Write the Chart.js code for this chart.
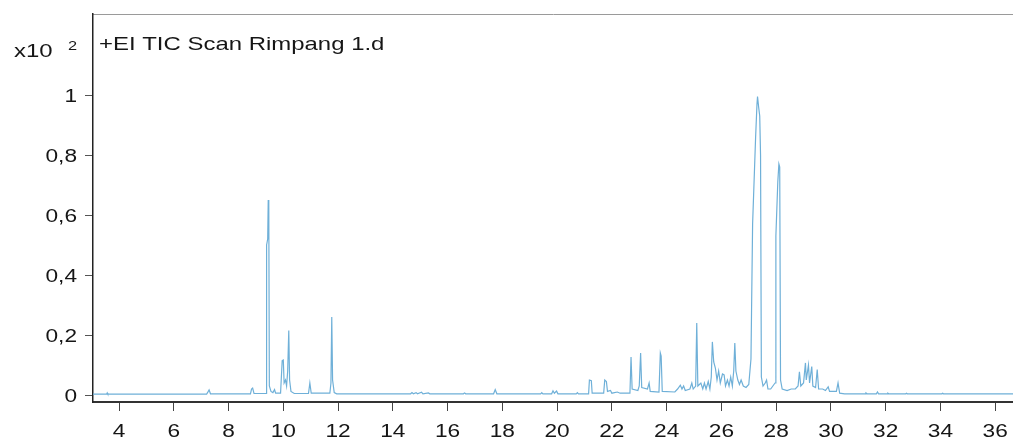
<!DOCTYPE html>
<html>
<head>
<meta charset="utf-8">
<script src="https://cdn.jsdelivr.net/npm/chart.js@4/dist/chart.umd.min.js"></script>
<style>
  html, body { margin: 0; padding: 0; background: #ffffff; }
  #wrap { width: 1013px; height: 439px; }
</style>
</head>
<body>
<div id="wrap"><canvas id="tic" width="1013" height="439"></canvas></div>
<script>
// Total ion chromatogram: retention time (min) vs. abundance (x10^2)
const retentionTime = [
  3.05, 3.55, 3.57, 3.59, 7.20, 7.26, 7.29, 7.34, 8.80, 8.84, 8.88, 8.93,
  9.37, 9.39, 9.43, 9.45, 9.47, 9.49, 9.55, 9.62, 9.68, 9.72, 9.90, 9.96,
  10.00, 10.03, 10.08, 10.12, 10.16, 10.20, 10.23, 10.28, 10.40, 10.92, 10.97, 11.02,
  11.70, 11.74, 11.77, 11.80, 11.86, 11.95, 14.65, 14.70, 14.75, 14.85, 14.90, 15.05,
  15.10, 15.30, 15.35, 16.58, 16.62, 16.66, 17.68, 17.74, 17.80, 19.40, 19.44, 19.48,
  19.80, 19.85, 19.90, 19.98, 20.03, 20.70, 20.74, 20.78, 21.15, 21.18, 21.25, 21.28,
  21.70, 21.74, 21.80, 21.84, 21.95, 22.00, 22.20, 22.30, 22.66, 22.70, 22.74, 22.95,
  23.00, 23.05, 23.09, 23.30, 23.36, 23.40, 23.72, 23.77, 23.80, 23.84, 24.30, 24.40,
  24.50, 24.56, 24.62, 24.68, 24.85, 24.92, 24.97, 25.06, 25.10, 25.14, 25.25, 25.32,
  25.38, 25.44, 25.52, 25.58, 25.63, 25.67, 25.72, 25.78, 25.84, 25.90, 25.96, 26.04,
  26.10, 26.15, 26.22, 26.28, 26.34, 26.40, 26.45, 26.49, 26.53, 26.60, 26.66, 26.72,
  26.80, 26.90, 27.00, 27.08, 27.10, 27.14, 27.25, 27.30, 27.32, 27.36, 27.40, 27.43,
  27.46, 27.52, 27.60, 27.65, 27.70, 27.80, 27.96, 27.99, 28.06, 28.10, 28.13, 28.16,
  28.22, 28.40, 28.55, 28.70, 28.80, 28.85, 28.90, 29.00, 29.07, 29.10, 29.18, 29.22,
  29.30, 29.34, 29.44, 29.50, 29.55, 29.70, 29.80, 29.90, 29.95, 30.20, 30.26, 30.32,
  30.50, 31.25, 31.28, 31.32, 31.66, 31.70, 31.74, 32.05, 32.08, 32.11, 32.73, 32.76,
  32.79, 34.05, 34.08, 34.11, 36.65
];
const abundance = [
  0.003, 0.003, 0.007, 0.003, 0.003, 0.012, 0.017, 0.004, 0.004, 0.020, 0.023, 0.005,
  0.005, 0.500, 0.520, 0.650, 0.640, 0.030, 0.012, 0.008, 0.018, 0.006, 0.006, 0.115,
  0.117, 0.040, 0.050, 0.030, 0.080, 0.215, 0.050, 0.012, 0.005, 0.005, 0.040, 0.006,
  0.006, 0.040, 0.260, 0.050, 0.008, 0.004, 0.004, 0.008, 0.004, 0.008, 0.004, 0.009,
  0.004, 0.007, 0.004, 0.004, 0.007, 0.004, 0.004, 0.018, 0.004, 0.004, 0.008, 0.004,
  0.004, 0.014, 0.006, 0.013, 0.004, 0.004, 0.008, 0.004, 0.004, 0.050, 0.048, 0.006,
  0.006, 0.050, 0.045, 0.012, 0.015, 0.006, 0.010, 0.006, 0.006, 0.127, 0.020, 0.015,
  0.030, 0.140, 0.025, 0.020, 0.040, 0.012, 0.010, 0.140, 0.130, 0.012, 0.010, 0.020,
  0.033, 0.020, 0.030, 0.015, 0.020, 0.040, 0.020, 0.030, 0.240, 0.030, 0.040, 0.020,
  0.040, 0.020, 0.045, 0.020, 0.060, 0.177, 0.110, 0.090, 0.050, 0.080, 0.040, 0.070,
  0.067, 0.030, 0.050, 0.030, 0.060, 0.030, 0.080, 0.173, 0.080, 0.050, 0.035, 0.050,
  0.030, 0.025, 0.035, 0.120, 0.270, 0.570, 0.860, 0.970, 0.995, 0.960, 0.930, 0.800,
  0.060, 0.030, 0.040, 0.050, 0.020, 0.020, 0.040, 0.530, 0.710, 0.770, 0.760, 0.050,
  0.020, 0.015, 0.020, 0.020, 0.030, 0.077, 0.030, 0.040, 0.107, 0.050, 0.100, 0.040,
  0.095, 0.030, 0.025, 0.085, 0.020, 0.020, 0.015, 0.027, 0.012, 0.012, 0.040, 0.006,
  0.004, 0.004, 0.007, 0.004, 0.004, 0.010, 0.004, 0.004, 0.006, 0.004, 0.004, 0.006,
  0.004, 0.004, 0.006, 0.004, 0.004
];
const xTickValues = [4, 6, 8, 10, 12, 14, 16, 18, 20, 22, 24, 26, 28, 30, 32, 34, 36];
const yTickValues = [0, 0.2, 0.4, 0.6, 0.8, 1];
const traceTitle = '+EI TIC Scan Rimpang 1.d';
const yScaleLabel = 'x10';
const yScaleExponent = '2';

const FONT = '"Liberation Sans", Arial, Helvetica, sans-serif';
const TEXT_COLOR = '#161616';
const WIDE = 1.26; // horizontal stretch of the instrument-report lettering
const points = retentionTime.map((t, i) => ({ x: t, y: abundance[i] }));

// Decimal-comma tick labels: 0, 0,2 ... 1
function commaLabel(v) {
  if (Math.abs(v) < 1e-9) return '0';
  if (Math.abs(v - Math.round(v)) < 1e-9) return String(Math.round(v));
  return v.toFixed(1).replace('.', ',');
}

function wideText(ctx, text, x, y, align) {
  ctx.save();
  ctx.translate(x, y);
  ctx.scale(WIDE, 1);
  ctx.textAlign = align;
  ctx.fillText(text, 0, 0);
  ctx.restore();
}

// Tick labels, report title and the y multiplier, drawn in the wide report lettering
const reportText = {
  id: 'reportText',
  afterDraw(chart) {
    const { ctx, chartArea } = chart;
    const xs = chart.scales.x;
    const ys = chart.scales.y;
    ctx.save();
    ctx.fillStyle = TEXT_COLOR;
    ctx.textBaseline = 'alphabetic';
    ctx.font = '18px ' + FONT;
    xTickValues.forEach(v => wideText(ctx, String(v), xs.getPixelForValue(v), chartArea.bottom + 35, 'center'));
    yTickValues.forEach(v => wideText(ctx, commaLabel(v), chartArea.left - 16, ys.getPixelForValue(v) + 6.5, 'right'));
    ctx.font = '19px ' + FONT;
    wideText(ctx, traceTitle, chartArea.left + 6, 50, 'left');
    wideText(ctx, yScaleLabel, 14, 57, 'left');
    ctx.font = '13px ' + FONT;
    wideText(ctx, yScaleExponent, 68, 50, 'left');
    ctx.restore();
  }
};

new Chart(document.getElementById('tic'), {
  type: 'line',
  data: {
    datasets: [{
      data: points,
      borderColor: '#6fb0d8',
      borderWidth: 1.2,
      pointRadius: 0,
      tension: 0,
      fill: false
    }]
  },
  options: {
    responsive: false,
    devicePixelRatio: 1,
    animation: false,
    layout: { padding: 0 },
    plugins: { legend: { display: false }, tooltip: { enabled: false }, title: { display: false } },
    scales: {
      x: {
        type: 'linear',
        position: 'bottom',
        min: 3.05,
        max: 36.65,
        afterBuildTicks: s => { s.ticks = xTickValues.map(v => ({ value: v })); },
        afterFit: s => { s.height = 37; },
        ticks: { display: false },
        grid: { display: true, drawOnChartArea: false, drawTicks: true, tickLength: 9, color: '#444', lineWidth: 1 },
        border: { display: true, color: '#333', width: 2 }
      },
      xTop: {
        type: 'linear',
        position: 'top',
        min: 3.05,
        max: 36.65,
        afterFit: s => { s.height = 14; },
        ticks: { display: false },
        grid: { display: false },
        border: { display: true, color: '#9a9a9a', width: 1 }
      },
      y: {
        type: 'linear',
        position: 'left',
        min: -0.0233,
        max: 1.27,
        afterBuildTicks: s => { s.ticks = yTickValues.map(v => ({ value: v })); },
        afterFit: s => { s.width = 93; },
        ticks: { display: false },
        grid: { display: true, drawOnChartArea: false, drawTicks: true, tickLength: 8, color: '#555', lineWidth: 1 },
        border: { display: true, color: '#222', width: 1.5 }
      }
    }
  },
  plugins: [reportText]
});
</script>
</body>
</html>
